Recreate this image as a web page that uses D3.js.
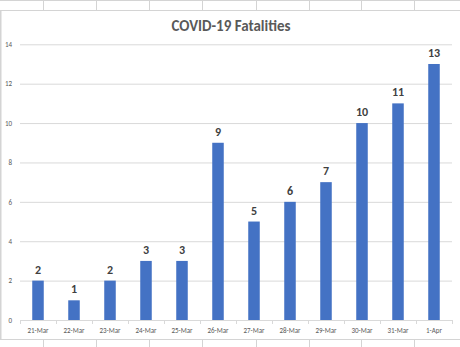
<!DOCTYPE html>
<html>
<head>
<meta charset="utf-8">
<script src="https://cdn.jsdelivr.net/npm/d3@7"></script>
<style>
  body { margin: 0; background: #fff; }
  svg { display: block; font-family: Carlito, Lato, "Liberation Sans", sans-serif; }
</style>
</head>
<body>
<div id="chart"></div>
<script>
var dates = ["21-Mar", "22-Mar", "23-Mar", "24-Mar", "25-Mar", "26-Mar",
             "27-Mar", "28-Mar", "29-Mar", "30-Mar", "31-Mar", "1-Apr"];
var deaths = [2, 1, 2, 3, 3, 9, 5, 6, 7, 10, 11, 13];
var yTicks = [0, 2, 4, 6, 8, 10, 12, 14];

var width = 460, height = 347;

var svg = d3.select("#chart")
  .append("svg")
    .attr("width", width)
    .attr("height", height);

// spreadsheet cells around the chart
var cellX = [43, 96, 149, 202, 256, 309, 361, 414];
svg.append("line")
  .attr("x1", 0).attr("x2", width).attr("y1", 0.5).attr("y2", 0.5)
  .attr("stroke", "#d4d4d4");
svg.append("line")
  .attr("x1", 0).attr("x2", width).attr("y1", 10.5).attr("y2", 10.5)
  .attr("stroke", "#d4d4d4");
svg.append("line")
  .attr("x1", 0).attr("x2", width).attr("y1", 339.5).attr("y2", 339.5)
  .attr("stroke", "#d4d4d4");
svg.append("line")
  .attr("x1", 0.5).attr("x2", 0.5).attr("y1", 10).attr("y2", 340)
  .attr("stroke", "#d4d4d4").attr("stroke-width", 2);
cellX.forEach(function(cx) {
  svg.append("line")
    .attr("x1", cx + 0.5).attr("x2", cx + 0.5).attr("y1", 0).attr("y2", 10)
    .attr("stroke", "#d4d4d4");
  svg.append("line")
    .attr("x1", cx + 0.5).attr("x2", cx + 0.5).attr("y1", 340).attr("y2", height)
    .attr("stroke", "#d4d4d4");
});

// plot area
var plotLeft = 20, plotRight = 452, plotTop = 44.3, plotBottom = 320;

var x = d3.scaleBand()
  .domain(dates)
  .range([plotLeft, plotRight])
  .paddingInner(0.68)
  .paddingOuter(0.34);

var y = d3.scaleLinear()
  .domain([0, 14])
  .range([plotBottom, plotTop]);

// title
svg.append("text")
  .attr("x", 231)
  .attr("y", 31)
  .attr("text-anchor", "middle")
  .attr("font-size", "15px")
  .attr("font-weight", "bold")
  .attr("fill", "#595959")
  .text("COVID-19 Fatalities");

// gridlines + y labels
var yAxis = svg.append("g")
  .attr("transform", "translate(" + plotLeft + ",0)")
  .call(d3.axisLeft(y).tickValues(yTicks).tickSize(-(plotRight - plotLeft)).tickPadding(8));
yAxis.select(".domain").remove();
yAxis.selectAll(".tick line").attr("stroke", "#d9d9d9");
yAxis.selectAll(".tick line").filter(function(d) { return d === 0; }).remove();
yAxis.selectAll("text")
  .attr("fill", "#595959")
  .attr("font-size", "7px")
  .attr("font-family", "Carlito, Lato, 'Liberation Sans', sans-serif");

// x axis with tick marks between categories
var step = x.step();
var xa = svg.append("g")
  .attr("transform", "translate(0," + plotBottom + ")");
xa.append("line")
  .attr("x1", plotLeft).attr("x2", plotRight)
  .attr("y1", 0.5).attr("y2", 0.5)
  .attr("stroke", "#d9d9d9");
xa.selectAll(".sep")
  .data(d3.range(dates.length + 1))
  .enter()
  .append("line")
    .attr("x1", function(i) { return plotLeft + i * step + 0.5; })
    .attr("x2", function(i) { return plotLeft + i * step + 0.5; })
    .attr("y1", 0).attr("y2", 4)
    .attr("stroke", "#d9d9d9");
xa.selectAll(".lbl")
  .data(dates)
  .enter()
  .append("text")
    .attr("x", function(d) { return x(d) + x.bandwidth() / 2; })
    .attr("y", 13)
    .attr("text-anchor", "middle")
    .attr("font-size", "7px")
    .attr("fill", "#595959")
    .text(function(d) { return d; });

// bars
svg.selectAll(".bar")
  .data(deaths)
  .enter()
  .append("rect")
    .attr("x", function(d, i) { return x(dates[i]); })
    .attr("y", function(d) { return y(d); })
    .attr("width", x.bandwidth())
    .attr("height", function(d) { return plotBottom - y(d); })
    .attr("fill", "#4472c4");

// data labels
svg.selectAll(".val")
  .data(deaths)
  .enter()
  .append("text")
    .attr("x", function(d, i) { return x(dates[i]) + x.bandwidth() / 2; })
    .attr("y", function(d) { return y(d) - 7; })
    .attr("text-anchor", "middle")
    .attr("font-size", "12px")
    .attr("font-weight", "bold")
    .attr("fill", "#404040")
    .text(function(d) { return d; });
</script>
</body>
</html>
